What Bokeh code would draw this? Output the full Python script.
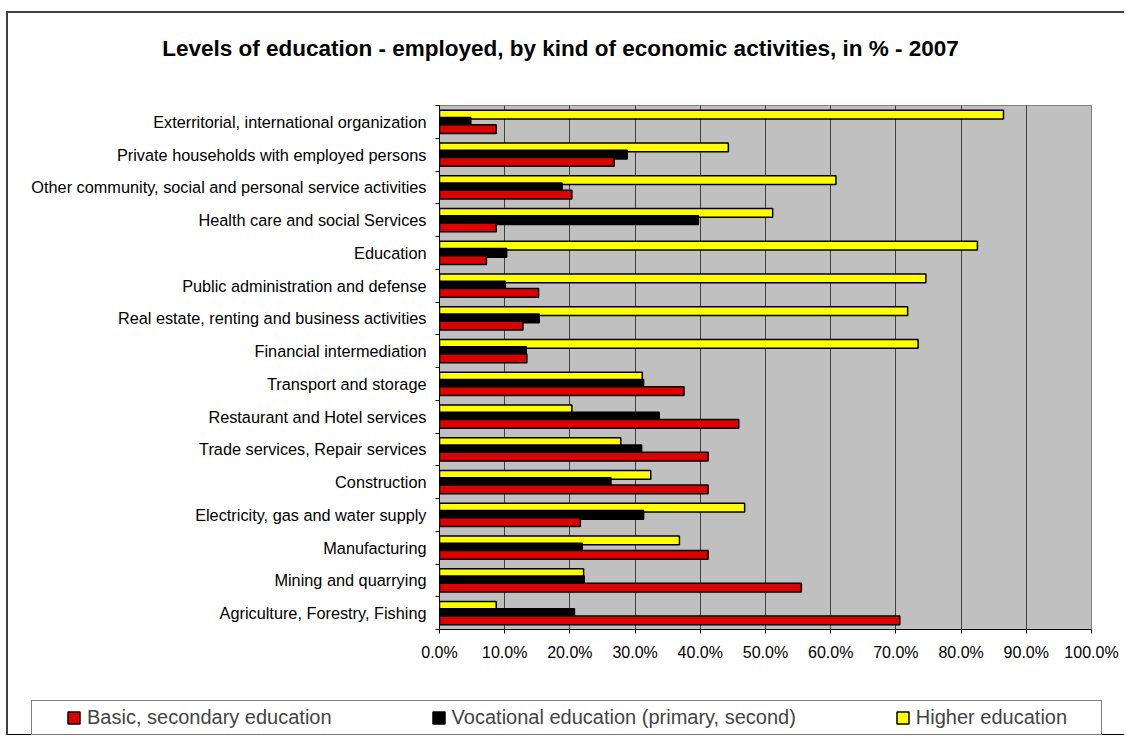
from bokeh.plotting import figure
from bokeh.models import (Range1d, LinearAxis, FixedTicker, Label,
                          CustomJSTickFormatter, PrintfTickFormatter, Legend, LegendItem,
                          ColumnDataSource)
from bokeh.core.properties import value
from bokeh.transform import dodge
from bokeh.embed import file_html
from bokeh.resources import INLINE

title_text = "Levels of education - employed, by kind of economic activities, in % - 2007"

# top to bottom, as in the picture
activities = [
    "Exterritorial, international organization",
    "Private households with employed persons",
    "Other community, social and personal service activities",
    "Health care and social Services",
    "Education",
    "Public administration and defense",
    "Real estate, renting and business activities",
    "Financial intermediation",
    "Transport and storage",
    "Restaurant and Hotel services",
    "Trade services, Repair services",
    "Construction",
    "Electricity, gas and water supply",
    "Manufacturing",
    "Mining and quarrying",
    "Agriculture, Forestry, Fishing",
]
basic = [8.7, 26.8, 20.3, 8.7, 7.2, 15.2, 12.8, 13.4, 37.5, 45.9, 41.2, 41.2, 21.6, 41.2, 55.5, 70.6]
vocational = [4.8, 28.8, 18.8, 39.7, 10.3, 10.1, 15.3, 13.3, 31.3, 33.7, 31.0, 26.3, 31.3, 21.9, 22.2, 20.7]
higher = [86.5, 44.3, 60.8, 51.1, 82.5, 74.6, 71.8, 73.4, 31.1, 20.3, 27.8, 32.4, 46.8, 36.8, 22.1, 8.7]
series_names = ["Basic, secondary education", "Vocational education (primary, second)", "Higher education"]
colors = ["#DD0000", "#000000", "#FFFF00"]
x_ticks = [0, 10, 20, 30, 40, 50, 60, 70, 80, 90, 100]

n = len(activities)
# band centres: first activity at the top
centres = [n - i - 0.5 for i in range(n)]

W = 1118
FONT = "Liberation Sans"
EDGE = "2px solid #404040"


def strip(height):
    f = figure(width=W, height=height, x_range=Range1d(0, 1), y_range=Range1d(100, 101),
               output_backend="svg", toolbar_location=None, x_axis_location=None, y_axis_location=None,
               min_border=0, min_border_left=0, min_border_right=0, min_border_top=0, min_border_bottom=0)
    f.grid.visible = False
    f.outline_line_color = None
    f.background_fill_color = "white"
    f.border_fill_color = "white"
    return f


# ---- title strip ----
pt = strip(72)
pt.styles = {"margin-left": "6px", "margin-top": "11px", "border-left": EDGE, "border-top": EDGE}
pt.add_layout(Label(x=552, y=36.6, x_units="screen", y_units="screen", text=title_text,
                    text_align="center", text_baseline="middle", text_font=FONT,
                    text_font_size="22.5px", text_font_style="bold", text_color="black"))

# ---- main chart ----
src = ColumnDataSource(dict(pos=centres, basic=basic, voc=vocational, higher=higher))
p = figure(width=W, height=616, y_range=Range1d(0, n), x_range=Range1d(0, 100),
           output_backend="svg", toolbar_location=None, y_axis_location=None,
           min_border_left=431, min_border_right=35, min_border_top=22, min_border_bottom=70)
p.styles = {"margin-left": "6px", "border-left": EDGE}
p.background_fill_color = "#C0C0C0"
p.border_fill_color = "white"
p.outline_line_color = "#808080"

bar_kw = dict(left=0, height=0.27, source=src, line_color="black", line_width=1.5)
r_h = p.hbar(y=dodge('pos', 0.22), right='higher', fill_color=colors[2], **bar_kw)
r_v = p.hbar(y=dodge('pos', 0.0), right='voc', fill_color=colors[1], **bar_kw)
r_b = p.hbar(y=dodge('pos', -0.22), right='basic', fill_color=colors[0], **bar_kw)

xa = p.xaxis[0]
xa.ticker = FixedTicker(ticks=x_ticks)
xa.formatter = PrintfTickFormatter(format="%.1f%%")
xa.major_tick_out = 4
xa.major_tick_in = 0
xa.minor_tick_line_color = None
xa.axis_line_color = "black"
xa.major_tick_line_color = "black"
xa.major_label_standoff = 10
xa.major_label_text_font = FONT
xa.major_label_text_font_size = "16px"
xa.major_label_text_color = "black"

p.xgrid.ticker = FixedTicker(ticks=x_ticks)
p.xgrid.grid_line_color = "#404040"
p.xgrid.grid_line_width = 1
for g in p.ygrid:
    g.visible = False

tick_axis = LinearAxis(ticker=FixedTicker(ticks=list(range(n + 1))),
                       formatter=CustomJSTickFormatter(code="return ''"),
                       major_tick_out=4, major_tick_in=0, minor_tick_line_color=None,
                       axis_line_color="black", major_tick_line_color="black",
                       major_label_standoff=0)
p.add_layout(tick_axis, "left")
label_axis = LinearAxis(ticker=FixedTicker(ticks=centres),
                        major_label_overrides={c: a for c, a in zip(centres, activities)},
                        major_tick_line_color=None, axis_line_color=None, minor_tick_line_color=None,
                        major_tick_out=0, major_tick_in=0,
                        major_label_standoff=9, major_label_text_font=FONT,
                        major_label_text_font_size="16.3px", major_label_text_color="black")
p.add_layout(label_axis, "left")

# ---- legend strip (own root, so its frame is the full strip) ----
pl = strip(36)
pl.styles = {"margin-left": "6px", "border-left": EDGE}
lsrc = ColumnDataSource(dict(pos=centres, basic=basic, voc=vocational, higher=higher))
leg_kw = dict(left=0, height=0.27, source=lsrc, line_color="black", line_width=1.5)
lr_b = pl.hbar(y='pos', right='basic', fill_color=colors[0], **leg_kw)
lr_v = pl.hbar(y='pos', right='voc', fill_color=colors[1], **leg_kw)
lr_h = pl.hbar(y='pos', right='higher', fill_color=colors[2], **leg_kw)
items = [LegendItem(label=value(nm), renderers=[r]) for nm, r in zip(series_names, [lr_b, lr_v, lr_h])]
leg = Legend(items=items, location=(23, 0), orientation="horizontal",
             border_line_color="black", border_line_width=1, background_fill_color="white",
             padding=5, margin=0, glyph_width=15, glyph_height=15, label_standoff=6,
             label_text_font=FONT, label_text_font_size="20px",
             label_height=20, label_width=180, spacing=99,
             title=" ", title_location="left", title_text_font_size="1px", title_standoff=28)
pl.add_layout(leg, "center")

open("out.html", "w").write(file_html([pt, p, pl], INLINE))
